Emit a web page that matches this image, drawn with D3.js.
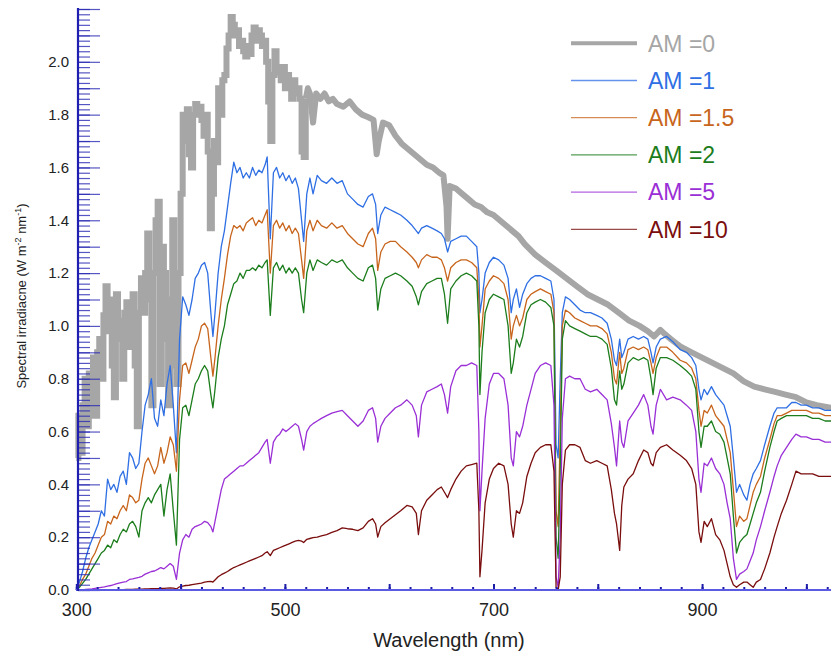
<!DOCTYPE html>
<html>
<head>
<meta charset="utf-8">
<script src="https://cdn.jsdelivr.net/npm/d3@7/dist/d3.min.js"></script>
<style>
  body { margin: 0; background: #fff; }
  svg { font-family: "Liberation Sans", Arial, Helvetica, sans-serif; }
</style>
</head>
<body>
<div id="chart"></div>
<script>
// AM0 (extraterrestrial) spectrum, drawn as a thick line
const wlSun = [300,302,304,306,308,310,312,314,316,318,320,322,324,326,328,330,332,334,336,338,340,342,344,346,348,350,352,354,356,358,360,362,364,366,368,370,372,374,376,378,380,382,384,386,388,390,392,394,396,398,400,402,404,406,408,410,412,414,416,418,420,422,424,426,428,430,432,434,436,438,440,442,444,446,448,450,452,454,456,458,460,462,464,466,468,470,472,474,476,478,480,482,484,486,488,490,492,494,496,498,500,502,504,506,508,510,512,514,516,518,520,522,524,527,530,534,538,542,546,550,556,562,568,574,580,585,588,590,594,600,606,612,618,624,630,636,642,648,652,655,656,658,664,670,676,682,688,694,700,706,712,718,724,730,740,750,760,770,780,790,800,810,820,830,840,848,854,860,864,870,880,890,900,910,920,930,940,950,960,970,980,990,1000,1010,1024];
const am0 = [0.50,0.66,0.52,0.70,0.80,0.62,0.82,0.66,0.88,0.66,0.90,0.95,0.80,1.04,1.15,0.98,1.10,0.85,0.73,1.12,0.95,1.02,0.80,1.05,1.09,0.92,1.00,1.12,0.85,0.62,1.05,1.18,1.05,1.20,1.35,1.10,0.70,1.20,1.40,1.47,0.78,1.30,1.20,0.95,0.70,1.10,1.40,0.85,0.78,1.20,1.50,1.80,1.70,1.82,1.65,1.60,1.80,1.84,1.80,1.83,1.78,1.72,1.80,1.66,1.37,1.50,1.70,1.62,1.90,1.80,1.93,1.95,2.05,2.10,2.17,2.14,2.10,2.12,2.06,2.08,2.04,2.02,2.06,2.03,2.10,2.13,2.08,2.12,2.10,2.06,2.08,2.00,1.85,1.70,1.95,2.04,1.96,1.98,1.93,1.98,1.90,1.95,1.92,1.86,1.93,1.88,1.90,1.86,1.66,1.64,1.86,1.90,1.88,1.77,1.88,1.86,1.88,1.85,1.86,1.84,1.83,1.85,1.82,1.80,1.79,1.78,1.65,1.70,1.77,1.76,1.72,1.69,1.67,1.65,1.63,1.61,1.60,1.58,1.57,1.45,1.33,1.53,1.52,1.50,1.48,1.46,1.45,1.43,1.42,1.40,1.38,1.36,1.34,1.31,1.27,1.24,1.21,1.18,1.15,1.12,1.10,1.08,1.05,1.02,1.00,0.98,0.96,0.985,0.97,0.95,0.92,0.90,0.88,0.86,0.84,0.82,0.79,0.77,0.76,0.75,0.74,0.73,0.71,0.70,0.69];

// ground level spectra share one wavelength grid
const wlAtm = [300,303,306,309,312,315,318,321,324,327,330,333,336,339,342,345,348,351,354,357,360,363,366,369,372,375,378,381,384,387,390,393,396,399,402,405,408,411,414,417,420,423,426,429,431,433,436,439,442,445,448,451,454,457,460,463,466,469,472,475,478,481,483,486,489,492,495,498,501,504,507,510,513,516,518,521,524,527,531,535,540,545,550,555,560,565,570,575,580,584,587,589,592,596,601,606,611,617,622,626,628,631,636,641,646,650,653,656,659,664,669,674,679,684,686,687,689,692,696,700,705,710,714,717,719,722,725,728,732,736,740,745,750,755,758,760,762,764,766,769,773,778,783,788,793,799,804,809,813,816,818,821,823,825,829,834,839,844,848,851,853,856,860,866,872,879,885,890,894,897,899,902,905,909,913,917,921,924,927,930,933,936,940,943,946,949,952,956,960,965,969,972,976,981,986,990,995,1000,1006,1012,1018,1024];
const am1 = [0.00,0.03,0.07,0.12,0.16,0.19,0.22,0.25,0.30,0.28,0.42,0.38,0.40,0.37,0.43,0.45,0.40,0.52,0.50,0.46,0.48,0.60,0.70,0.74,0.80,0.65,0.62,0.72,0.66,0.78,0.85,0.70,0.52,0.95,1.11,1.08,1.04,1.10,1.18,1.20,1.23,1.24,1.20,1.05,0.96,1.05,1.20,1.30,1.36,1.45,1.54,1.62,1.58,1.60,1.56,1.58,1.56,1.60,1.57,1.59,1.58,1.61,1.64,1.33,1.58,1.60,1.56,1.58,1.55,1.57,1.54,1.56,1.52,1.40,1.32,1.50,1.56,1.50,1.57,1.55,1.54,1.56,1.54,1.55,1.50,1.48,1.46,1.45,1.49,1.50,1.46,1.35,1.42,1.45,1.44,1.43,1.42,1.40,1.38,1.36,1.35,1.37,1.38,1.37,1.36,1.35,1.33,1.28,1.32,1.33,1.34,1.34,1.32,1.30,1.20,1.05,1.10,1.20,1.24,1.26,1.25,1.23,1.18,1.05,1.10,1.14,1.07,1.12,1.16,1.18,1.19,1.19,1.18,1.17,1.10,0.55,0.50,0.80,1.05,1.11,1.10,1.08,1.06,1.05,1.05,1.04,1.03,1.01,0.95,0.87,0.85,0.95,0.88,0.90,0.95,0.96,0.95,0.96,0.95,0.90,0.86,0.92,0.95,0.96,0.94,0.91,0.90,0.88,0.85,0.76,0.72,0.76,0.74,0.77,0.74,0.72,0.70,0.66,0.62,0.50,0.37,0.40,0.36,0.34,0.40,0.44,0.46,0.49,0.55,0.62,0.67,0.69,0.69,0.69,0.71,0.71,0.70,0.70,0.69,0.69,0.68,0.68];
const am15 = [0.00,0.015,0.04,0.06,0.09,0.12,0.14,0.17,0.20,0.21,0.26,0.25,0.28,0.27,0.30,0.32,0.30,0.36,0.35,0.33,0.34,0.42,0.48,0.50,0.47,0.44,0.47,0.54,0.48,0.52,0.58,0.55,0.45,0.72,0.85,0.86,0.82,0.87,0.92,0.95,1.00,1.01,0.99,0.88,0.81,0.88,1.00,1.10,1.18,1.27,1.34,1.38,1.37,1.38,1.36,1.39,1.40,1.41,1.38,1.40,1.39,1.42,1.44,1.20,1.38,1.40,1.37,1.39,1.36,1.38,1.35,1.37,1.35,1.25,1.18,1.36,1.40,1.36,1.40,1.38,1.37,1.39,1.37,1.38,1.35,1.33,1.31,1.30,1.35,1.37,1.33,1.21,1.28,1.31,1.32,1.32,1.30,1.28,1.26,1.24,1.22,1.25,1.27,1.26,1.26,1.25,1.22,1.17,1.22,1.24,1.25,1.25,1.24,1.22,1.10,0.92,1.00,1.14,1.17,1.19,1.18,1.16,1.10,0.95,1.00,1.04,1.00,1.03,1.10,1.12,1.13,1.14,1.13,1.12,1.05,0.30,0.24,0.60,1.00,1.06,1.05,1.03,1.02,1.01,1.00,1.00,0.99,0.97,0.90,0.80,0.78,0.90,0.82,0.84,0.91,0.92,0.91,0.92,0.91,0.86,0.82,0.88,0.92,0.92,0.90,0.87,0.86,0.84,0.80,0.68,0.62,0.68,0.67,0.70,0.66,0.64,0.62,0.57,0.52,0.38,0.24,0.28,0.26,0.27,0.32,0.37,0.40,0.43,0.50,0.57,0.63,0.66,0.66,0.67,0.68,0.68,0.68,0.68,0.67,0.67,0.66,0.66];
const am2 = [0.00,0.01,0.025,0.04,0.06,0.08,0.10,0.12,0.14,0.15,0.17,0.16,0.19,0.18,0.21,0.23,0.22,0.25,0.26,0.24,0.20,0.30,0.33,0.35,0.33,0.36,0.38,0.40,0.28,0.38,0.44,0.30,0.17,0.57,0.69,0.70,0.66,0.72,0.78,0.80,0.83,0.85,0.83,0.74,0.69,0.76,0.88,0.95,1.00,1.08,1.12,1.16,1.17,1.20,1.18,1.21,1.21,1.22,1.21,1.23,1.22,1.24,1.25,1.04,1.22,1.24,1.21,1.23,1.20,1.22,1.20,1.22,1.20,1.10,1.05,1.20,1.25,1.21,1.25,1.24,1.23,1.25,1.24,1.25,1.22,1.20,1.18,1.17,1.22,1.23,1.18,1.06,1.14,1.18,1.19,1.20,1.19,1.17,1.15,1.11,1.08,1.13,1.16,1.17,1.18,1.18,1.12,1.01,1.14,1.17,1.19,1.20,1.19,1.17,1.00,0.74,0.90,1.05,1.10,1.12,1.11,1.10,1.00,0.82,0.86,0.95,0.92,0.96,1.05,1.08,1.09,1.10,1.09,1.07,1.00,0.20,0.12,0.45,0.95,1.02,1.00,0.99,0.98,0.97,0.96,0.96,0.95,0.93,0.84,0.72,0.70,0.83,0.76,0.78,0.86,0.88,0.87,0.88,0.87,0.80,0.74,0.84,0.88,0.88,0.87,0.85,0.83,0.81,0.76,0.60,0.54,0.62,0.62,0.64,0.60,0.59,0.56,0.50,0.44,0.28,0.14,0.18,0.20,0.21,0.25,0.29,0.33,0.37,0.45,0.54,0.60,0.64,0.65,0.66,0.66,0.66,0.66,0.66,0.65,0.65,0.64,0.64];
const am5 = [0.00,0.00,0.00,0.002,0.003,0.004,0.006,0.008,0.010,0.012,0.015,0.017,0.020,0.024,0.027,0.030,0.032,0.040,0.042,0.045,0.048,0.052,0.060,0.065,0.070,0.072,0.078,0.085,0.080,0.090,0.10,0.09,0.04,0.14,0.19,0.21,0.20,0.23,0.24,0.245,0.25,0.26,0.255,0.24,0.22,0.26,0.32,0.38,0.42,0.43,0.44,0.45,0.46,0.47,0.47,0.48,0.49,0.50,0.51,0.52,0.54,0.56,0.57,0.48,0.56,0.58,0.59,0.61,0.60,0.61,0.62,0.63,0.62,0.57,0.53,0.60,0.62,0.63,0.64,0.65,0.66,0.67,0.675,0.68,0.66,0.64,0.62,0.64,0.68,0.69,0.65,0.56,0.62,0.65,0.67,0.69,0.70,0.72,0.70,0.66,0.58,0.70,0.75,0.76,0.77,0.78,0.74,0.67,0.77,0.83,0.85,0.85,0.86,0.85,0.60,0.30,0.45,0.65,0.78,0.82,0.82,0.80,0.70,0.50,0.47,0.60,0.58,0.62,0.70,0.76,0.82,0.85,0.86,0.85,0.70,0.05,0.01,0.20,0.65,0.80,0.81,0.80,0.80,0.76,0.75,0.76,0.74,0.72,0.63,0.54,0.47,0.64,0.56,0.54,0.64,0.67,0.70,0.74,0.70,0.62,0.59,0.70,0.76,0.72,0.73,0.72,0.70,0.68,0.60,0.42,0.37,0.48,0.47,0.50,0.46,0.44,0.40,0.33,0.27,0.12,0.04,0.06,0.07,0.08,0.11,0.14,0.19,0.24,0.30,0.37,0.43,0.47,0.51,0.54,0.57,0.59,0.58,0.58,0.57,0.57,0.56,0.56];
const am10 = [0.00,0.00,0.00,0.00,0.00,0.00,0.00,0.00,0.00,0.00,0.00,0.001,0.001,0.001,0.001,0.001,0.002,0.002,0.002,0.003,0.003,0.003,0.004,0.004,0.005,0.005,0.005,0.006,0.006,0.007,0.008,0.007,0.004,0.012,0.015,0.017,0.018,0.020,0.022,0.024,0.026,0.030,0.032,0.033,0.030,0.038,0.050,0.058,0.064,0.070,0.078,0.085,0.090,0.095,0.100,0.105,0.110,0.115,0.120,0.125,0.130,0.140,0.145,0.130,0.150,0.155,0.160,0.165,0.170,0.175,0.180,0.185,0.188,0.185,0.180,0.192,0.195,0.198,0.200,0.205,0.210,0.218,0.225,0.235,0.232,0.230,0.225,0.235,0.260,0.270,0.250,0.200,0.240,0.255,0.270,0.285,0.300,0.320,0.315,0.290,0.210,0.300,0.340,0.360,0.380,0.390,0.370,0.350,0.380,0.420,0.450,0.470,0.475,0.480,0.300,0.05,0.15,0.33,0.42,0.46,0.48,0.47,0.40,0.25,0.20,0.30,0.29,0.33,0.43,0.48,0.52,0.54,0.55,0.55,0.45,0.01,0.00,0.05,0.40,0.53,0.55,0.55,0.54,0.49,0.48,0.49,0.48,0.47,0.38,0.29,0.25,0.15,0.32,0.39,0.42,0.44,0.49,0.53,0.52,0.48,0.47,0.52,0.54,0.55,0.53,0.51,0.49,0.46,0.40,0.22,0.18,0.26,0.24,0.27,0.21,0.19,0.15,0.10,0.05,0.02,0.01,0.02,0.03,0.03,0.02,0.01,0.03,0.04,0.08,0.14,0.20,0.24,0.29,0.34,0.40,0.45,0.44,0.44,0.44,0.43,0.43,0.43];

const seriesNames = ["AM =0", "AM =1", "AM =1.5", "AM =2", "AM =5", "AM =10"];
const seriesColors = ["#a6a6a6", "#2f6fe4", "#c8651c", "#1c7d1c", "#9a2fd6", "#7a0d0d"];

const xTickLabels = [300, 500, 700, 900];
const yTickLabels = [0, 0.2, 0.4, 0.6, 0.8, 1.0, 1.2, 1.4, 1.6, 1.8, 2.0];

const width = 831, height = 652;

const svg = d3.select("#chart").append("svg")
  .attr("width", width)
  .attr("height", height);

const x = d3.scaleLinear().domain([300, 1024]).range([76.3, 831.4]);
const y = d3.scaleLinear().domain([0, 2.2]).range([590, 9]);

const plot = svg.append("g").attr("class", "curves");

function lineGen(curve) {
  return d3.line()
    .x(function(d) { return x(d[0]); })
    .y(function(d) { return y(d[1]); })
    .curve(curve);
}

// AM0: blocky steps in the UV/blue, plain line past ~520 nm
const sunPts = wlSun.map(function(w, j) { return [w, am0[j]]; });
const split = wlSun.indexOf(520);
plot.append("path")
  .datum(sunPts.slice(0, split + 1))
  .attr("fill", "none").attr("stroke", seriesColors[0]).attr("stroke-width", 6)
  .attr("d", lineGen(d3.curveStepAfter));
plot.append("path")
  .datum(sunPts.slice(split))
  .attr("fill", "none").attr("stroke", seriesColors[0]).attr("stroke-width", 6)
  .attr("stroke-linejoin", "round")
  .attr("d", lineGen(d3.curveLinear));

//ground level curves
[am1, am15, am2, am5, am10].forEach(function(vals, i) {
  const pts = wlAtm.map(function(w, j) { return [w, vals[j]]; });
  plot.append("path")
    .datum(pts)
    .attr("fill", "none")
    .attr("stroke", seriesColors[i + 1])
    .attr("stroke-width", 1.3)
    .attr("stroke-linejoin", "round")
    .attr("d", lineGen(d3.curveLinear));
});

// y axis: inward ticks, minor every 0.02, longer every 0.1
const axisColor = "#2a2ab4";
const yMinor = svg.append("g").attr("transform", "translate(78,0)")
  .call(d3.axisRight(y).tickValues(d3.range(0, 2.2001, 0.02)).tickSize(12).tickFormat(""));
const yMajor = svg.append("g").attr("transform", "translate(78,0)")
  .call(d3.axisRight(y).tickValues(d3.range(0, 2.2001, 0.1)).tickSize(22).tickFormat(""));
[yMinor, yMajor].forEach(function(g) {
  g.select(".domain").remove();
  g.selectAll(".tick line").attr("stroke", axisColor).attr("stroke-opacity", 0.8).attr("stroke-width", 1.2);
});
const yLab = svg.append("g").attr("transform", "translate(78,0)")
  .call(d3.axisLeft(y).tickValues(yTickLabels).tickSize(0).tickPadding(9).tickFormat(d3.format(".1f")));
yLab.select(".domain").remove();
yLab.selectAll("text").attr("font-size", 15).attr("fill", "#222")
  .attr("font-family", "'Liberation Sans', Arial, sans-serif");

// x axis: upward ticks every 20 nm, longer every 100 nm
const xMinor = svg.append("g").attr("transform", "translate(0,590)")
  .call(d3.axisTop(x).tickValues(d3.range(300, 1021, 20)).tickSize(3).tickFormat(""));
const xMajor = svg.append("g").attr("transform", "translate(0,590)")
  .call(d3.axisTop(x).tickValues(d3.range(300, 1001, 100)).tickSize(6).tickFormat(""));
[xMinor, xMajor].forEach(function(g) {
  g.select(".domain").remove();
  g.selectAll(".tick line").attr("stroke", "#1c1ca8").attr("stroke-width", 2);
});
const xLab = svg.append("g").attr("transform", "translate(0,590)")
  .call(d3.axisBottom(x).tickValues(xTickLabels).tickSize(0).tickPadding(13).tickFormat(d3.format("d")));
xLab.select(".domain").remove();
xLab.selectAll("text").attr("font-size", 18).attr("fill", "#222")
  .attr("font-family", "'Liberation Sans', Arial, sans-serif");

// axis lines
svg.append("line")
  .attr("x1", 76).attr("x2", 831).attr("y1", 590).attr("y2", 590)
  .attr("stroke", "#5a5ae2").attr("stroke-width", 2);
svg.append("line")
  .attr("x1", 78).attr("x2", 78).attr("y1", 8).attr("y2", 591)
  .attr("stroke", "#1e1eb0").attr("stroke-width", 2.2);

// titles
svg.append("text")
  .attr("x", 449).attr("y", 647)
  .attr("text-anchor", "middle")
  .attr("font-size", 20).attr("fill", "#222")
  .text("Wavelength (nm)");

const yt = svg.append("text")
  .attr("transform", "translate(26,296) rotate(-90)")
  .attr("text-anchor", "middle")
  .attr("font-size", 13).attr("fill", "#222");
yt.append("tspan").text("Spectral irradiacne (W m");
yt.append("tspan").attr("font-size", 9).attr("dy", -5).text("-2");
yt.append("tspan").attr("dy", 5).text(" nm");
yt.append("tspan").attr("font-size", 9).attr("dy", -5).text("-1");
yt.append("tspan").attr("dy", 5).text(")");

// legend
const legend = svg.append("g").attr("class", "legend");
seriesNames.forEach(function(name, i) {
  const ly = 43.3 + i * 37.2;
  legend.append("line")
    .attr("x1", 571).attr("x2", 637).attr("y1", ly).attr("y2", ly)
    .attr("stroke", seriesColors[i])
    .attr("stroke-opacity", i === 0 ? 1 : 0.75)
    .attr("stroke-width", i === 0 ? 4 : 1.3);
  legend.append("text")
    .attr("x", 648).attr("y", ly + 8.3)
    .attr("font-size", 23)
    .attr("fill", seriesColors[i])
    .text(name);
});
</script>
</body>
</html>
